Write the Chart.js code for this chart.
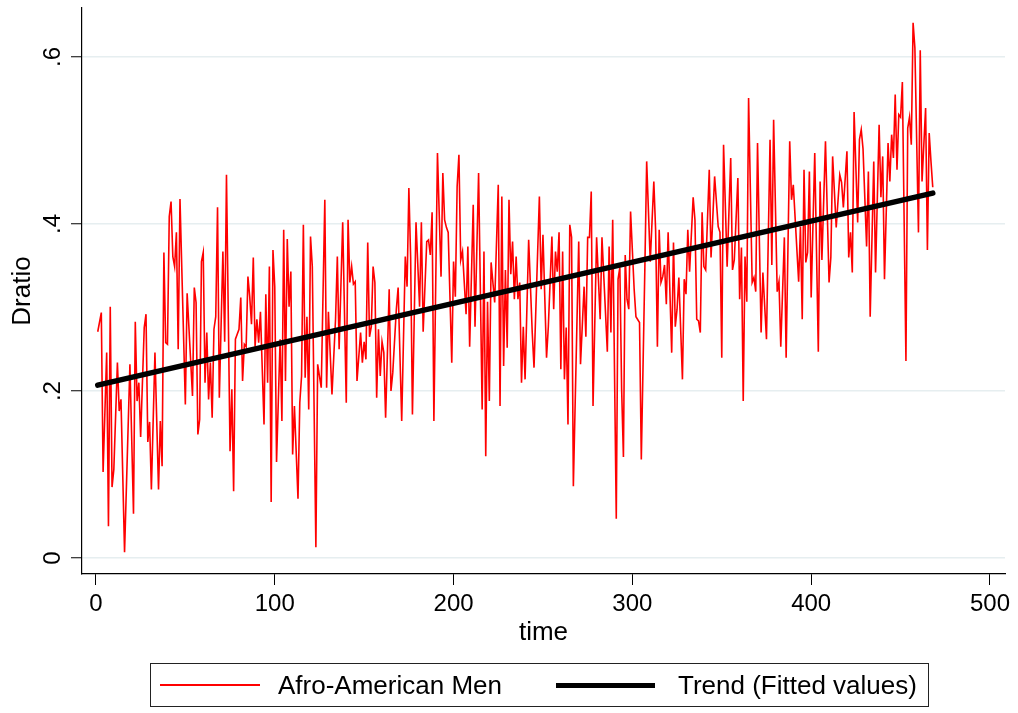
<!DOCTYPE html>
<html>
<head>
<meta charset="utf-8">
<script src="https://cdn.jsdelivr.net/npm/chart.js@4"></script>
<style>
  html, body { margin: 0; padding: 0; background: #fff; }
  #wrap { position: relative; width: 1018px; height: 713px; }
  #legend { position: absolute; left: 150px; top: 663px; width: 779px; height: 44px;
            border: 1px solid #222; box-sizing: border-box; font-family: "Liberation Sans", Arial, sans-serif;
            font-size: 26px; color: #000; }
  .item { position: absolute; top: 0; height: 42px; line-height: 42px; white-space: nowrap; }
  .sw { position: absolute; }
</style>
</head>
<body>
<div id="wrap">
  <canvas id="c" width="1018" height="713"></canvas>
  <div id="legend"></div>
</div>
<script>
// ---- data ----
const times = [1,3,4,6,7,8,9,10,12,13,14,16,19,21,22,23,24,25,27,28,29,30,31,33,35,36,37,38,39,40,41,42,43,44,45,46,47,50,51,54,55,56,57,
58,59,60,61,62,63,64,65,66,67,68,69,71,72,73,75,76,77,78,80,81,82,83,84,85,86,87,88,89,90,91,92,94,95,96,97,98,99,100,101,103,104,105,106,107,108,109,110,111,113,114,115,
116,117,118,119,120,121,123,124,126,128,129,130,132,134,135,136,138,140,141,142,143,144,145,146,148,149,150,151,152,153,154,155,156,157,158,159,160,161,162,164,165,166,168,169,171,173,174,175,
176,177,179,181,182,183,185,186,187,188,189,191,193,194,195,196,197,199,200,201,202,203,204,205,207,208,209,211,212,214,216,217,218,219,220,221,222,223,225,226,227,228,229,230,231,232,233,234,
235,236,237,238,239,240,242,244,245,248,249,250,252,253,255,256,257,258,259,260,261,262,263,264,265,266,267,270,271,273,274,275,276,277,278,280,282,283,286,287,288,289,291,
292,293,294,295,296,297,298,299,301,302,304,305,307,308,310,312,313,314,315,316,317,318,319,320,322,323,324,325,326,328,329,330,331,332,334,335,336,337,338,339,340,341,343,344,346,348,349,350,351,
353,355,356,357,359,360,361,362,363,364,365,367,368,369,370,372,373,375,377,378,379,381,382,383,385,386,388,389,390,393,394,395,396,397,398,399,400,402,404,405,406,408,410,
411,412,414,416,417,418,420,421,422,423,424,426,427,428,429,431,432,433,435,436,438,439,440,441,443,444,445,446,447,448,449,450,451,453,454,455,456,457,458,460,461,462,464,465,466,467,468];

const dratio = [.271,.294,.103,.246,.038,.301,.085,.106,.234,.176,.19,.007,.232,.053,.283,.188,.21,.145,.276,.292,.139,.163,.082,.246,.082,.164,.11,.366,.258,.256,.409,.427,.361,.349,.39,.25,.43,.184,.317,.194,.324,.306,.148,
.166,.355,.366,.21,.27,.19,.234,.168,.274,.289,.42,.192,.367,.259,.459,.128,.202,.08,.262,.274,.312,.212,.256,.253,.337,.313,.28,.36,.253,.286,.258,.295,.16,.316,.21,.349,.067,.369,.325,.115,.262,.164,.393,.212,.382,.301,.343,.124,.182,.071,.186,.218,
.399,.216,.289,.178,.385,.349,.013,.232,.204,.429,.204,.295,.196,.286,.361,.25,.402,.186,.405,.33,.349,.328,.331,.212,.27,.234,.259,.238,.378,.265,.277,.349,.33,.192,.274,.218,.259,.246,.168,.322,.2,.222,.298,.324,.164,.361,.325,.443,
.36,.172,.402,.301,.402,.271,.379,.381,.363,.414,.164,.485,.337,.461,.405,.396,.39,.234,.355,.313,.445,.483,.357,.367,.292,.373,.253,.423,.277,.461,.178,.367,.122,.307,.188,.354,.33,.306,.447,.182,.433,.23,.345,.252,.429,.34,.379,.31,
.361,.31,.33,.21,.277,.214,.381,.27,.228,.433,.322,.387,.24,.277,.385,.298,.367,.343,.39,.226,.367,.214,.276,.16,.399,.384,.086,.379,.232,.325,.265,.384,.384,.439,.182,.384,.286,.384,.247,.373,.27,.405,.047,
.334,.348,.202,.121,.363,.31,.298,.415,.322,.289,.282,.118,.349,.475,.355,.451,.393,.253,.393,.33,.337,.351,.304,.39,.246,.378,.277,.298,.336,.214,.334,.316,.393,.343,.432,.405,.286,.284,.27,.414,.349,.345,.465,.36,.457,.397,.39,.24,.495,
.349,.479,.345,.357,.455,.31,.372,.188,.361,.307,.551,.33,.336,.319,.497,.27,.342,.262,.501,.351,.525,.319,.331,.253,.384,.24,.499,.429,.447,.331,.397,.286,.465,.354,.366,.463,.312,.485,.247,.451,.357,.499,.33,
.36,.481,.396,.459,.45,.42,.487,.36,.39,.342,.534,.402,.501,.513,.49,.373,.463,.289,.475,.342,.519,.432,.481,.334,.497,.451,.507,.479,.555,.465,.531,.528,.57,.236,.515,.528,.495,.641,.611,.39,.608,.451,.539,.369,.509,.475,.444];

const trendTimes = [1, 468];
const trendValues = [0.207, 0.437];

const xTicks = [0, 100, 200, 300, 400, 500];
const yTicks = [0, 0.2, 0.4, 0.6];
const yTickLabels = ['0', '.2', '.4', '.6'];

const seriesNames = ['Afro-American Men', 'Trend (Fitted values)'];
const xTitle = 'time';
const yTitle = 'Dratio';

// ---- chart ----
const FONT = '"Liberation Sans", Arial, Helvetica, sans-serif';
const redPts = times.map((t, i) => ({ x: t, y: dratio[i] }));
const trendPts = trendTimes.map((t, i) => ({ x: t, y: trendValues[i] }));

new Chart(document.getElementById('c'), {
  type: 'line',
  data: {
    datasets: [
      { label: seriesNames[1], data: trendPts, borderColor: '#000', borderWidth: 5.5,
        borderCapStyle: 'round', pointRadius: 0, tension: 0 },
      { label: seriesNames[0], data: redPts, borderColor: '#ff0000', borderWidth: 1.6,
        pointRadius: 0, tension: 0, borderJoinStyle: 'miter' }
    ]
  },
  options: {
    responsive: false,
    animation: false,
    events: [],
    layout: { padding: { top: 8, right: 13, left: 0, bottom: 63 } },
    plugins: { legend: { display: false }, tooltip: { enabled: false } },
    scales: {
      x: {
        type: 'linear', min: -7.8, max: 508.4,
        afterBuildTicks: s => { s.ticks = xTicks.map(v => ({ value: v })); },
        afterFit: s => { s.height = 76; s.paddingLeft = 0; s.paddingRight = 0; },
        ticks: { font: { family: FONT, size: 24 }, color: '#000', padding: 5, maxRotation: 0,
                 callback: v => String(v) },
        grid: { drawOnChartArea: false, drawTicks: true, tickLength: 11, tickColor: '#000', tickWidth: 1 },
        border: { display: true, color: '#000', width: 1.2 },
        title: { display: true, text: xTitle, font: { family: FONT, size: 26 }, color: '#000',
                 padding: { top: 0, bottom: 2 } }
      },
      y: {
        type: 'linear', min: -0.0191, max: 0.6587,
        afterBuildTicks: s => { s.ticks = yTicks.map(v => ({ value: v })); },
        afterFit: s => { s.width = 82; s.paddingTop = 0; s.paddingBottom = 0; },
        ticks: { font: { family: FONT, size: 24 }, color: '#000', padding: 8,
                 minRotation: 90, maxRotation: 90, crossAlign: 'center',
                 callback: (v) => { const k = yTicks.findIndex(t => Math.abs(t - v) < 1e-9); return k >= 0 ? yTickLabels[k] : ''; } },
        grid: { color: '#e6eef0', lineWidth: 1.5, drawTicks: true, tickLength: 11, tickColor: '#000', tickWidth: 1 },
        border: { display: true, color: '#000', width: 1.2 },
        title: { display: true, text: yTitle, font: { family: FONT, size: 26 }, color: '#000',
                 padding: { top: 7, bottom: 0 } }
      }
    }
  }
});

// ---- legend (HTML) ----
const lg = document.getElementById('legend');
const items = [
  { name: seriesNames[0], color: '#ff0000', w: 2, lineL: 9, lineW: 100, textL: 127 },
  { name: seriesNames[1], color: '#000', w: 5, lineL: 405, lineW: 99, textL: 527 }
];
items.forEach(it => {
  const sw = document.createElement('div');
  sw.className = 'sw';
  sw.style.cssText = `left:${it.lineL}px;top:${21 - it.w / 2}px;width:${it.lineW}px;height:${it.w}px;background:${it.color};`;
  lg.appendChild(sw);
  const tx = document.createElement('div');
  tx.className = 'item';
  tx.style.left = it.textL + 'px';
  tx.textContent = it.name;
  lg.appendChild(tx);
});
</script>
</body>
</html>
